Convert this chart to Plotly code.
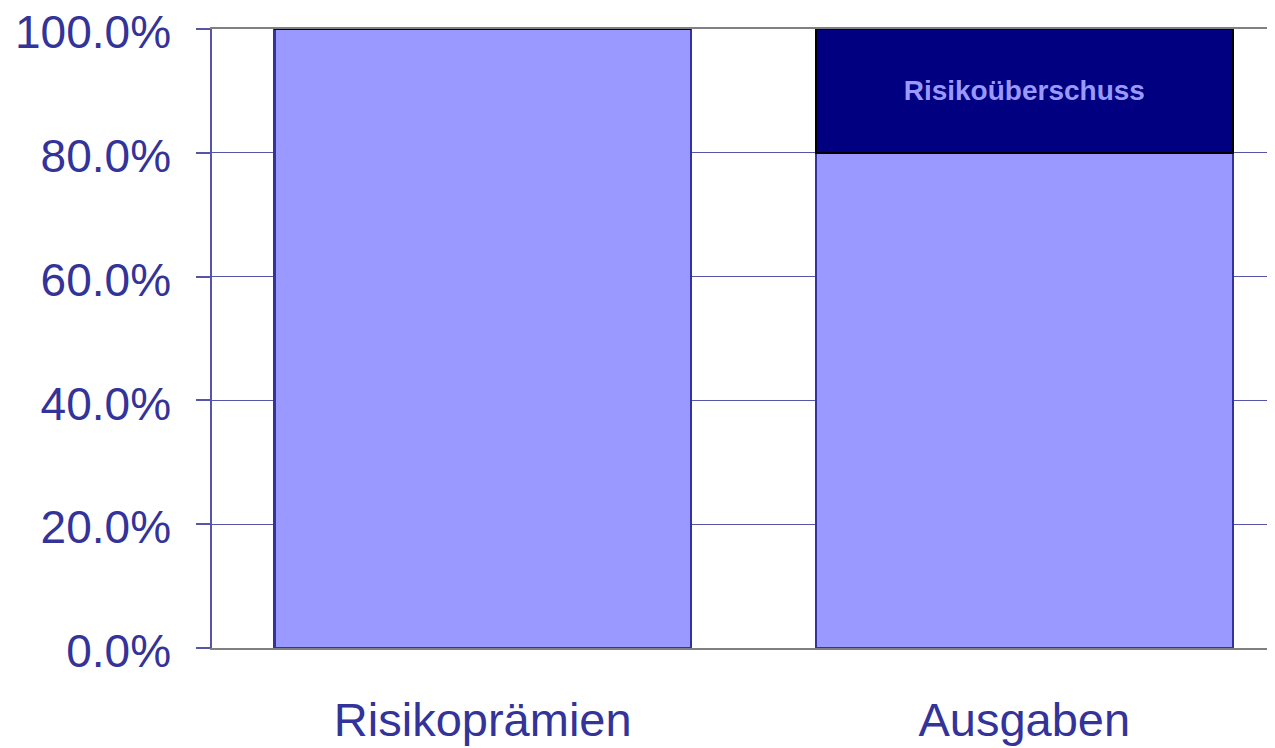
import plotly.graph_objects as go

categories = ['Risikoprämien', 'Ausgaben']
basis = [100.0, 80.0]
ueberschuss = [0.0, 20.0]
ueberschuss_text = ['', 'Risikoüberschuss']
y_ticks = [0, 20, 40, 60, 80, 100]

text_blue = '#333399'
light = '#9999ff'
navy = '#000080'

fig = go.Figure(data=[
    go.Bar(x=categories, y=basis, marker_color=light,
           marker_line=dict(color=text_blue, width=2.5), width=0.77),
    go.Bar(x=categories, y=ueberschuss, marker_color=navy,
           marker_line=dict(color='black', width=2.5), width=0.77,
           text=ueberschuss_text, textposition='inside', insidetextanchor='middle',
           textangle=0,
           textfont=dict(family='Liberation Sans', size=28, color=light, weight='bold')),
])

# page body has an 8px margin, so the figure is shrunk by that much
fig.update_layout(barmode='stack', showlegend=False, hovermode=False,
                  width=1267, height=740,
                  margin=dict(l=204, r=0, t=21, b=100),
                  plot_bgcolor='white', paper_bgcolor='white',
                  font=dict(family='Liberation Sans', size=47, color=text_blue))

fig.update_xaxes(range=[-0.5, 1.463], showline=True, mirror=True, linecolor='#808080',
                 linewidth=2, ticks='', ticklabelstandoff=30, automargin=False,
                 tickfont=dict(family='Liberation Sans', size=47, color=text_blue))
fig.update_yaxes(range=[0, 100], tickvals=y_ticks,
                 ticktext=[f'{v:.1f}%' for v in y_ticks],
                 showline=True, linecolor='#5555aa', linewidth=1.5,
                 ticks='outside', ticklen=14, tickcolor='#5555aa', tickwidth=1.5,
                 ticklabelstandoff=16, ticklabelshift=3,
                 automargin=False, ticklabeloverflow='allow',
                 showgrid=True, gridcolor='#5555aa', gridwidth=1,
                 zeroline=False,
                 tickfont=dict(family='Liberation Sans', size=46, color=text_blue))

fig.write_html("out.html")
